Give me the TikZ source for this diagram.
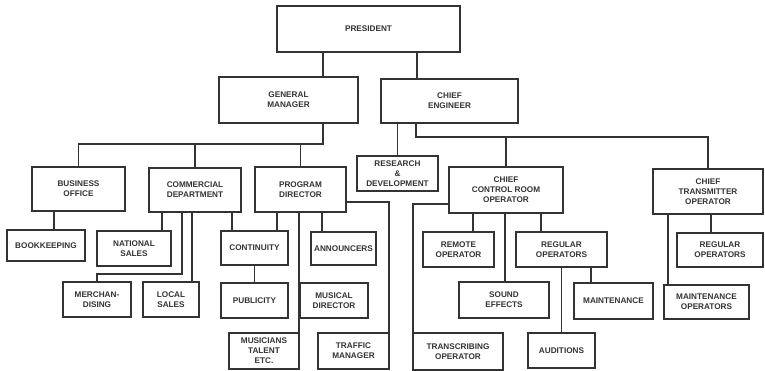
\documentclass[tikz,border=0pt]{standalone}
\usepackage{fontspec}
\setmainfont{Liberation Sans}
\usepackage{tikz}
\usetikzlibrary{positioning,calc}
\definecolor{ink}{HTML}{333333}

\begin{document}
\begin{tikzpicture}[x=0.03cm,y=-0.03cm,
  office/.style={draw=ink, line width=1.2pt, inner sep=0pt, outer sep=0pt,
                 align=center, text=ink,
                 font=\fontsize{7}{8.5}\selectfont\bfseries},
  sz/.style 2 args={minimum width=#1*0.03cm, minimum height=#2*0.03cm},
  link/.style={draw=ink, line width=1.2pt}
]
\useasboundingbox (0,0) rectangle (765,371);

% top management
\node[office, sz={183}{46}] (pres) at (368.5,29)  {PRESIDENT};
\node[office, sz={139}{46}] (gm)   at (288.5,100) {GENERAL\\MANAGER};
\node[office, sz={137}{44}] (ce)   at (449.5,101) {CHIEF\\ENGINEER};

% departments
\node[office, sz={93}{44}]  (bo)   at (78.5,189)  {BUSINESS\\OFFICE};
\node[office, sz={92}{44}]  (cd)   at (195,190)   {COMMERCIAL\\DEPARTMENT};
\node[office, sz={91}{45}]  (pd)   at (300.5,189.5) {PROGRAM\\DIRECTOR};
\node[office, sz={81}{35}]  (rd)   at (397.5,173.5) {RESEARCH\\\&\\DEVELOPMENT};
\node[office, sz={114}{46}] (ccro) at (506,190)   {CHIEF\\CONTROL ROOM\\OPERATOR};
\node[office, sz={110}{45}] (cto)  at (708,191.5) {CHIEF\\TRANSMITTER\\OPERATOR};

% staff, first row
\node[office, sz={78}{31}]  (book)    at (46,245.5)    {BOOKKEEPING};
\node[office, sz={74}{35}]  (nat)     at (134,248.5)   {NATIONAL\\SALES};
\node[office, sz={67}{34}]  (cont)    at (254.5,248)   {CONTINUITY};
\node[office, sz={65}{33}]  (ann)     at (343.5,248.5) {ANNOUNCERS};
\node[office, sz={71}{35}]  (remote)  at (458.5,249.5) {REMOTE\\OPERATOR};
\node[office, sz={91}{35}]  (regops)  at (561.5,249.5) {REGULAR\\OPERATORS};
\node[office, sz={86}{34}]  (regops2) at (720,250)     {REGULAR\\OPERATORS};

% staff, second row
\node[office, sz={68}{35}]  (merch)    at (97,299.5)    {MERCHAN-\\DISING};
\node[office, sz={56}{35}]  (local)    at (171,299.5)   {LOCAL\\SALES};
\node[office, sz={67}{35}]  (pub)      at (254.5,300.5) {PUBLICITY};
\node[office, sz={68}{35}]  (musdir)   at (334,300.5)   {MUSICAL\\DIRECTOR};
\node[office, sz={90}{36}]  (sound)    at (504,300)     {SOUND\\EFFECTS};
\node[office, sz={79}{36}]  (maint)    at (613.5,301)   {MAINTENANCE};
\node[office, sz={85}{34}]  (maintops) at (706.5,302)   {MAINTENANCE\\OPERATORS};

% staff, third row
\node[office, sz={70}{36}]  (musicians) at (264,351)   {MUSICIANS\\TALENT\\ETC.};
\node[office, sz={71}{36}]  (traffic)   at (353.5,351) {TRAFFIC\\MANAGER};
\node[office, sz={90}{37}]  (transc)    at (458,351.5) {TRANSCRIBING\\OPERATOR};
\node[office, sz={67}{35}]  (aud)       at (561.5,350.5) {AUDITIONS};

% bus lines under the two managers
\coordinate (gmbus) at (0,144);
\coordinate (cebus) at (0,137);

% president
\draw[link] (pres.south -| 323,0) -- (gm.north -| 323,0);
\draw[link] (pres.south -| 417,0) -- (ce.north -| 417,0);

% general manager
\draw[link] (gm.south -| 323,0) |- (bo.north |- gmbus) -- (bo.north);
\draw[link] (cd.north) -- (cd.north |- gmbus);
\draw[link] (pd.north) -- (pd.north |- gmbus);

% chief engineer
\draw[link] (ce.south -| rd.north) -- (rd.north);
\draw[link] (ce.south -| 416,0) |- (cto.north |- cebus) -- (cto.north);
\draw[link] (ccro.north) -- (ccro.north |- cebus);

% business and commercial
\draw[link] (bo.south -| 54,0) -- (book.north -| 54,0);
\draw[link] (cd.south -| 162,0) -- (nat.north -| 162,0);
\draw[link] (cd.south -| 182,0) |- (merch.north |- 0,274) -- (merch.north);
\draw[link] (cd.south -| 192,0) -- (local.north -| 192,0);
\draw[link] (cd.south -| 232,0) -- (cont.north -| 232,0);

% program
\draw[link] (pd.south -| 277,0) -- (cont.north -| 277,0);
\draw[link] (cont.south) -- (pub.north);
\draw[link] (pd.south -| 322,0) -- (ann.north -| 322,0);
\draw[link] (pd.south -| musicians.north east) -- (musicians.north east);
\draw[link] (pd.east |- 0,202) -| (traffic.north east);

% control room
\draw[link] (ccro.south -| 473,0) -- (remote.north -| 473,0);
\draw[link] (ccro.south -| 505,0) -- (sound.north -| 505,0);
\draw[link] (ccro.south -| 541,0) -- (regops.north -| 541,0);
\draw[link] (ccro.west |- 0,204) -| (transc.north west);
\draw[link] (regops.south) -- (aud.north);
\draw[link] (regops.south -| 591,0) -- (maint.north -| 591,0);

% transmitter
\draw[link] (cto.south -| 711,0) -- (regops2.north -| 711,0);
\draw[link] (cto.south -| 668,0) -- (maintops.north -| 668,0);
\end{tikzpicture}
\end{document}
